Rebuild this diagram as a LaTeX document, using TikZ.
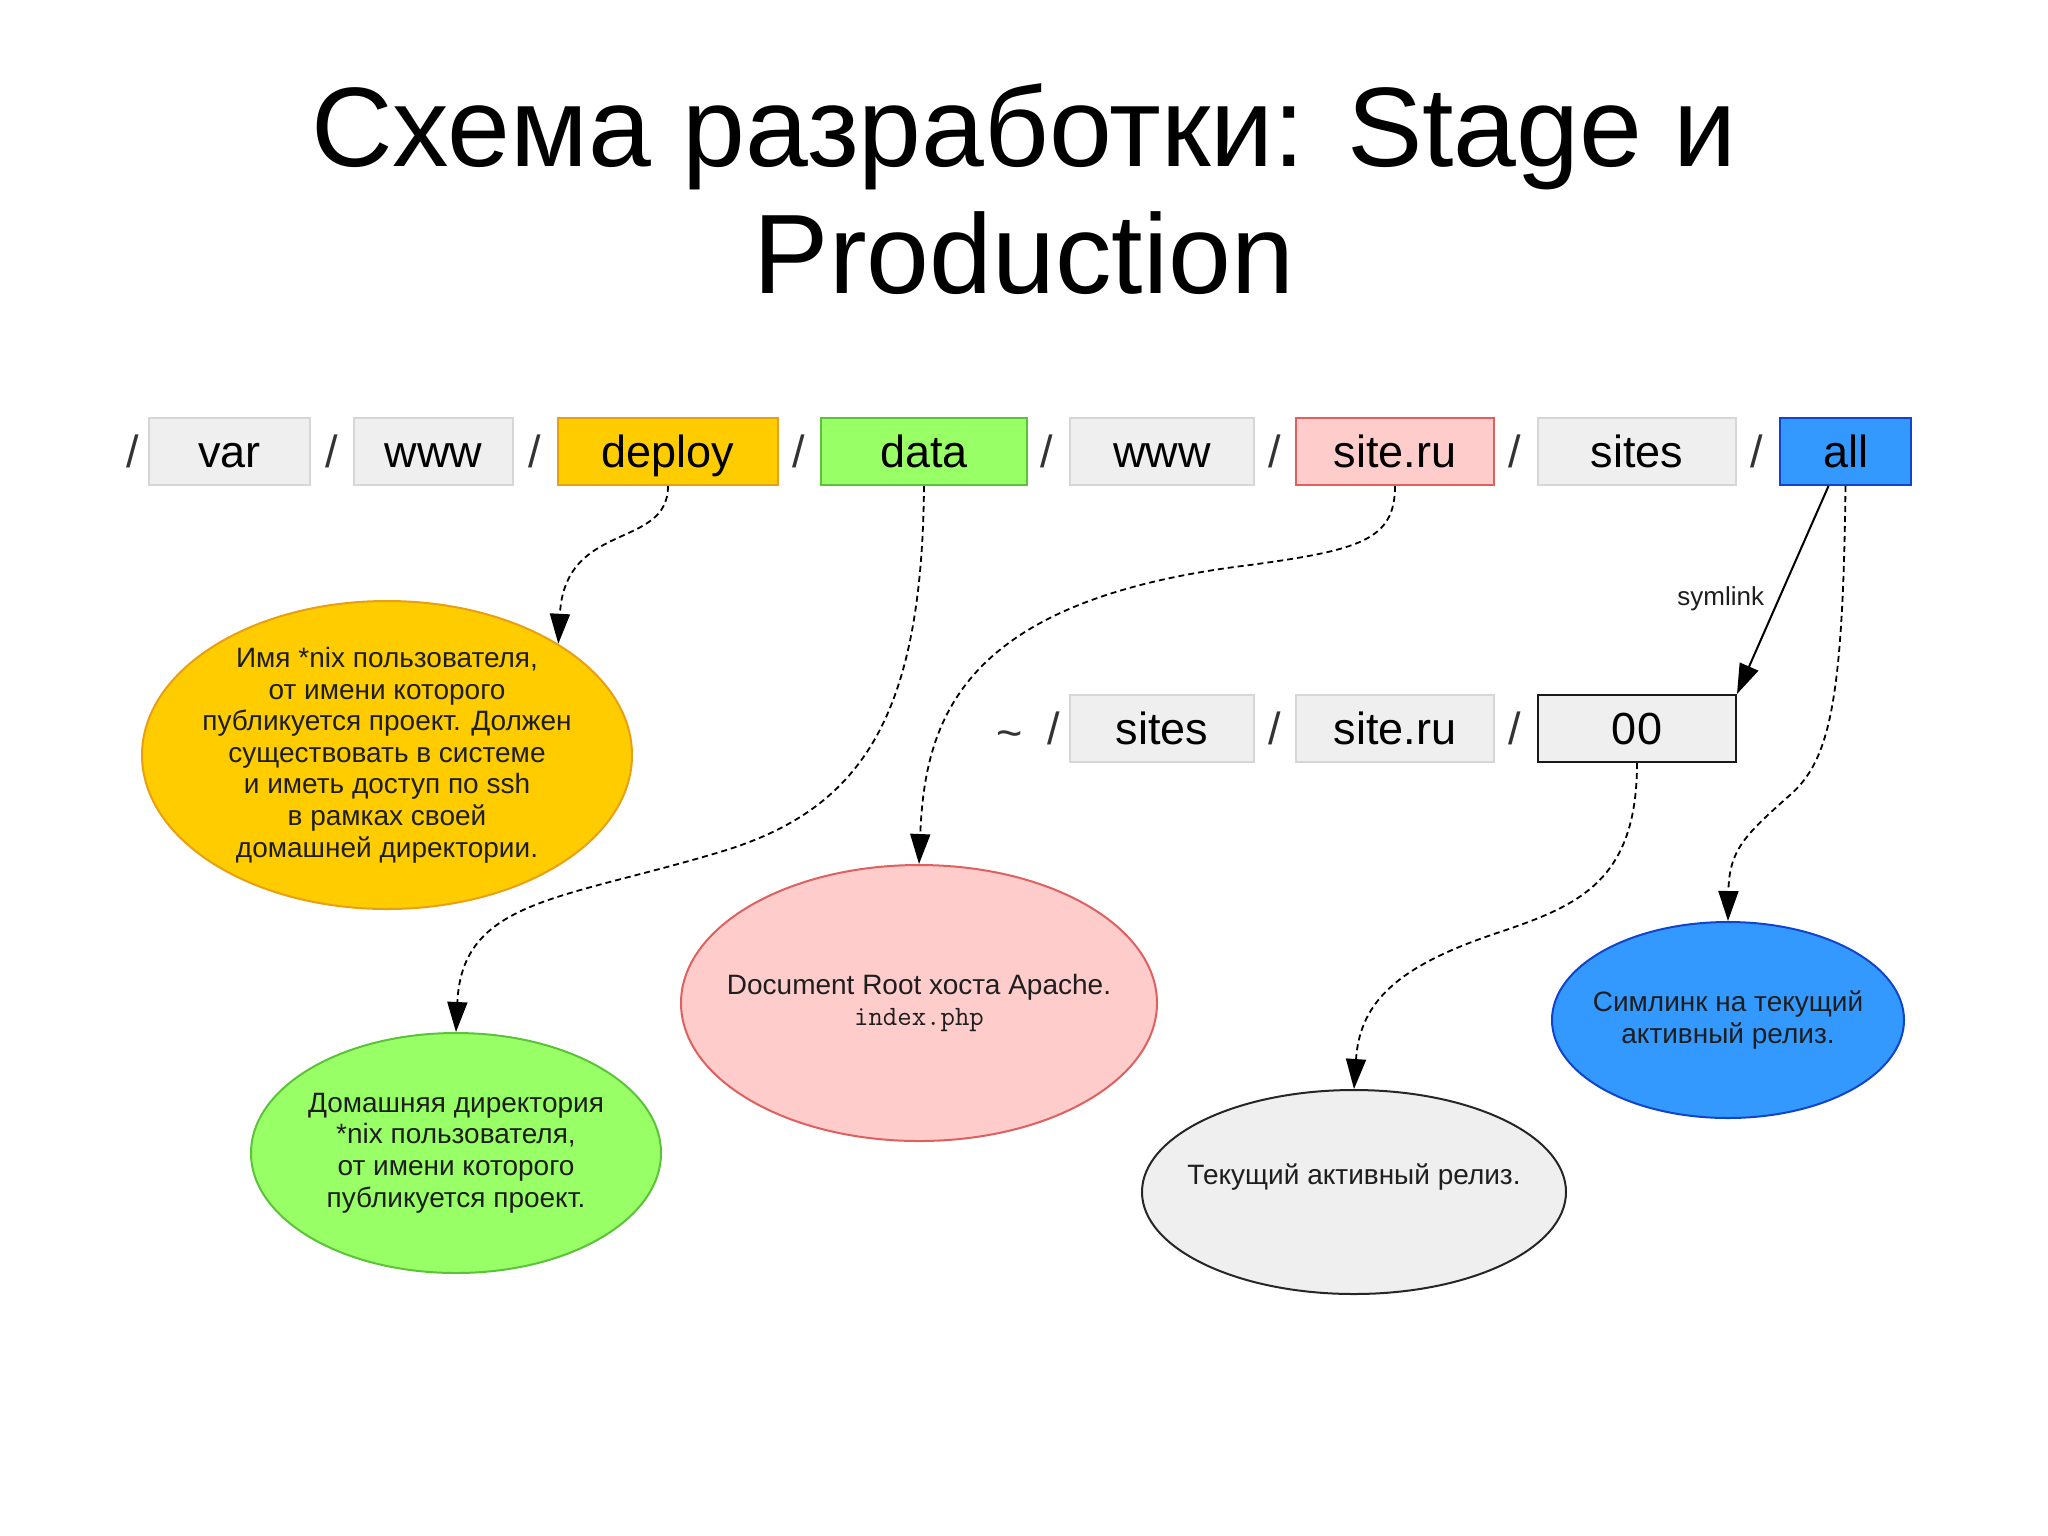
\documentclass[tikz,border=0pt]{standalone}
\usepackage{fontspec}
\setmainfont{Liberation Sans}
\usetikzlibrary{shapes.geometric,arrows.meta}
\definecolor{boxgray}{HTML}{EFEFEF}
\definecolor{boxgrayline}{HTML}{D6D6D6}
\definecolor{orfill}{HTML}{FFCC00}
\definecolor{orline}{HTML}{E8A010}
\definecolor{grfill}{HTML}{99FF66}
\definecolor{grline}{HTML}{5CC23A}
\definecolor{pkfill}{HTML}{FFCCCC}
\definecolor{pkline}{HTML}{E06060}
\definecolor{blfill}{HTML}{3399FF}
\definecolor{blline}{HTML}{1144CC}
\definecolor{txt}{HTML}{1E1E1E}
\begin{document}
\begin{tikzpicture}[x=1pt,y=-1pt,
  dirbox/.style={draw=boxgrayline,fill=boxgray,line width=2pt,minimum height=67pt,inner sep=0pt,
    text height=32pt,text depth=0pt,font=\fontsize{45}{50}\selectfont},
  sepch/.style={inner sep=0pt,text height=32pt,text depth=0pt,font=\fontsize{45}{50}\selectfont,text=black!80},
  bubble/.style={ellipse,line width=2pt,inner sep=0pt},
  btext/.style={align=center,font=\fontsize{28}{31.6}\selectfont,text=txt,inner sep=0pt},
  link/.style={dashed,dash pattern=on 6pt off 4pt,line width=1.8pt,-{Triangle[length=30pt,width=20pt]}},
  solidlink/.style={line width=2pt,-{Triangle[length=30pt,width=20pt]}}
]
\useasboundingbox[fill=white] (0,0) rectangle (2048,1535);

% title
\node[align=center,font=\fontsize{113}{127}\selectfont,inner sep=0pt] (title) at (1024,189.5)
  {Схема разработки: Stage и\\Production};

% top row
\node[sepch] (s1) at (133,451.5) {/};
\node[dirbox,minimum width=161pt] (var) at (229.5,451.5) {var};
\node[sepch] (s2) at (332,451.5) {/};
\node[dirbox,minimum width=159pt] (www) at (433.5,451.5) {www};
\node[sepch] (s3) at (535,451.5) {/};
\node[dirbox,minimum width=220pt,fill=orfill,draw=orline] (deploy) at (668,451.5) {deploy};
\node[sepch] (s4) at (799,451.5) {/};
\node[dirbox,minimum width=206pt,fill=grfill,draw=grline] (data) at (924,451.5) {data};
\node[sepch] (s5) at (1047,451.5) {/};
\node[dirbox,minimum width=184pt] (www2) at (1162,451.5) {www};
\node[sepch] (s6) at (1275,451.5) {/};
\node[dirbox,minimum width=198pt,fill=pkfill,draw=pkline] (site) at (1395,451.5) {site.ru};
\node[sepch] (s7) at (1515,451.5) {/};
\node[dirbox,minimum width=198pt] (sites) at (1637,451.5) {sites};
\node[sepch] (s8) at (1757,451.5) {/};
\node[dirbox,minimum width=131pt,fill=blfill,draw=blline] (all) at (1845.5,451.5) {all};

% second row
\node[sepch] (tilde) at (1010,732) {\~{}};
\node[sepch] (t1) at (1054,728.5) {/};
\node[dirbox,minimum width=184pt] (sites2) at (1162,728.5) {sites};
\node[sepch] (t2) at (1275,728.5) {/};
\node[dirbox,minimum width=198pt] (site2) at (1395,728.5) {site.ru};
\node[sepch] (t3) at (1515,728.5) {/};
\node[dirbox,minimum width=198pt,draw=black!90] (rel) at (1637,728.5) {00};

% ellipses
\node[bubble,fill=orfill,draw=orline,minimum width=490pt,minimum height=308pt,
  label={[btext]center:{Имя *nix пользователя,\\от имени которого\\публикуется проект. Должен\\существовать в системе\\и иметь доступ по ssh\\в рамках своей\\домашней директории.}}]
  (user) at (387,755) {};
\node[bubble,fill=grfill,draw=grline,minimum width=410pt,minimum height=240pt,
  label={[btext]center:{Домашняя директория\\*nix пользователя,\\от имени которого\\публикуется проект.}}]
  (home) at (456,1153) {};
\node[bubble,fill=pkfill,draw=pkline,minimum width=476pt,minimum height=276pt,
  label={[btext]center:{Document Root хоста Apache.\\{\ttfamily index.php}}}]
  (docroot) at (919,1003) {};
\node[bubble,fill=boxgray,draw=black!85,minimum width=424pt,minimum height=204pt,
  label={[btext,yshift=15pt]center:{Текущий активный релиз.}}]
  (current) at (1354,1192) {};
\node[bubble,fill=blfill,draw=blline,minimum width=352pt,minimum height=196pt,
  label={[btext]center:{Симлинк на текущий\\активный релиз.}}]
  (symlinkE) at (1728,1020) {};

% connectors
\draw[link] (deploy.south) .. controls (668,550) and (565,520) .. (user.33);
\draw[link] (data.south) .. controls (922,720) and (860,810) .. (720,852)
   .. controls (560,900) and (462,900) .. (home.north);
\draw[link] (site.south) .. controls (1395,540) and (1360,550) .. (1250,565)
   .. controls (960,600) and (925,720) .. (docroot.north);
\draw[solidlink] ([xshift=-17pt]all.south) -- node[pos=0.54,anchor=east,xshift=-12pt,
   font=\fontsize{26}{30}\selectfont,text=txt,inner sep=2pt] (symlbl) {symlink} (rel.north east);
\draw[link] (all.south) .. controls (1843,700) and (1830,760) .. (1790,795)
   .. controls (1745,835) and (1729,850) .. (symlinkE.north);
\draw[link] (rel.south) .. controls (1637,880) and (1580,905) .. (1500,932)
   .. controls (1400,965) and (1360,1000) .. (current.north);
\end{tikzpicture}
\end{document}
